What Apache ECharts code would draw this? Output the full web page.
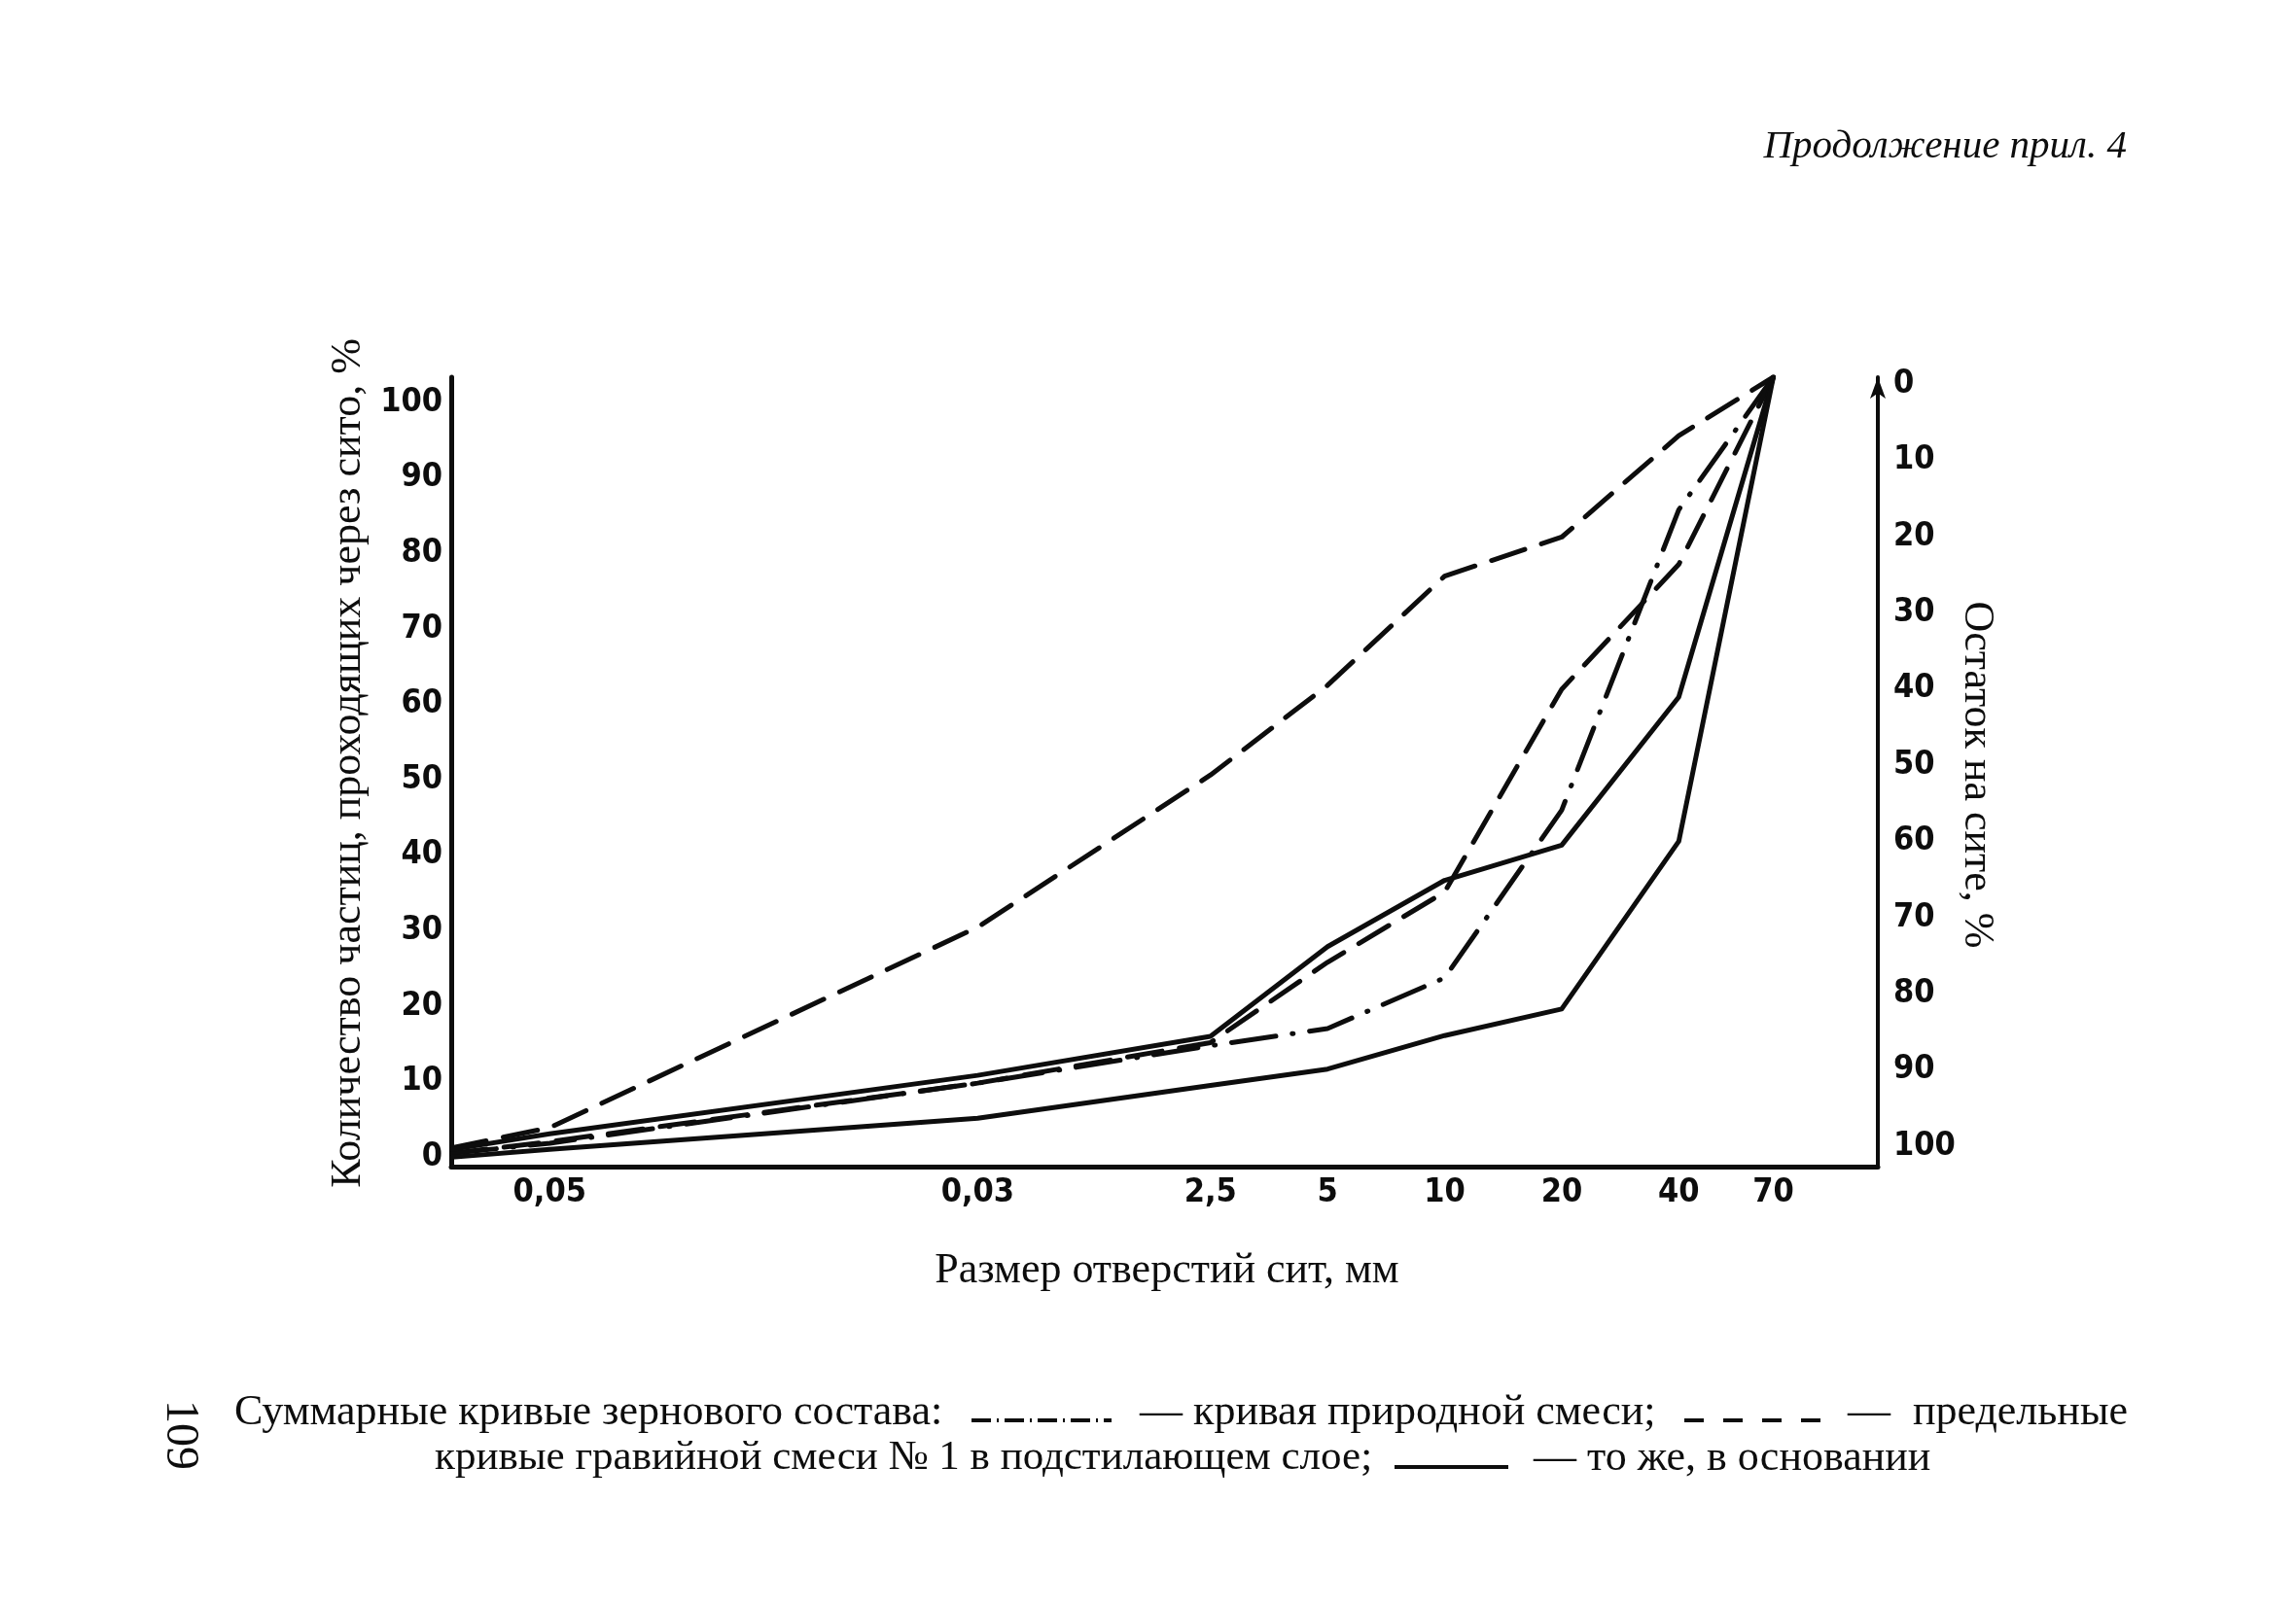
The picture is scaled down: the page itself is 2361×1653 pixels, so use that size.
<!DOCTYPE html>
<html>
<head>
<meta charset="utf-8">
<script src="https://cdn.jsdelivr.net/npm/echarts@6/dist/echarts.min.js"></script>
<style>
html,body{margin:0;padding:0;background:#fff;}
#c{width:2361px;height:1653px;}
</style>
</head>
<body>
<div id="c"></div>
<script>
// ---- data ----
const sieveSizes  = [0.05, 0.63, 2.5, 5, 10, 20, 40, 70];          // mm, labelled sieves
const sieveLabels = ['0,05', '0,03', '2,5', '5', '10', '20', '40', '70'];
const pointSizes  = [0.028, 0.05, 0.63, 2.5, 5, 10, 20, 40, 70];   // first point = curve start at the axis
const naturalMix  = [0.5, 1.8, 9.5, 14.3, 16.5, 23, 44.5, 83, 100];   // dash-dot
const underUpper  = [1.2, 3.8, 29.5, 49, 60.5, 74.5, 79.5, 92.5, 100]; // dashed, upper limit
const underLower  = [0.5, 2, 9.5, 14.7, 25, 34, 60, 76, 100];          // dashed, lower limit
const baseUpper   = [1, 3, 10.5, 15.5, 27, 35.5, 40, 59, 100];         // solid, upper limit
const baseLower   = [0, 1, 5, 9.2, 11.3, 15.6, 19, 40.5, 100];         // solid, lower limit

const black = '#0d0d0d';
const serif = "'Liberation Serif','DejaVu Serif','Times New Roman',serif";
const narrow = "'Liberation Sans Narrow','DejaVu Sans Condensed','Roboto Condensed',sans-serif";

function pairs(vals) { return pointSizes.map((s, i) => [s, vals[i]]); }
function labelFor(v) {
  let best = 0, bd = Infinity;
  sieveSizes.forEach((s, i) => {
    const d = Math.abs(Math.log(v) - Math.log(s));
    if (d < bd) { bd = d; best = i; }
  });
  return sieveLabels[best];
}

function lineSeries(name, vals, type) {
  return {
    name: name, type: 'line', xAxisIndex: 0, yAxisIndex: 0,
    data: pairs(vals), symbol: 'none', silent: true,
    lineStyle: { color: black, width: 5, type: type, cap: 'round', join: 'round' }
  };
}

function txt(x, y, text, align, size, extra) {
  return Object.assign({ type: 'text', x: x, y: y, silent: true,
    style: { text: text, fontFamily: serif, fontSize: size, fill: black,
             align: align, verticalAlign: 'middle' } }, extra || {});
}

const chart = echarts.init(document.getElementById('c'), null, { renderer: 'canvas' });
const option = {
  backgroundColor: '#ffffff',
  animation: false,
  textStyle: { fontFamily: serif, color: black },
  grid: [
    { left: 464, right: 430, top: 388, height: 812, outerBoundsMode: 'none' },
    { left: 464, right: 430, top: 414, height: 776, outerBoundsMode: 'none' },
    { left: 464, right: 430, top: 395, height: 784, outerBoundsMode: 'none' }
  ],
  xAxis: [
    {
      type: 'log', logBase: 10, gridIndex: 0, min: 0.0279, max: 130,
      axisLine: { show: true, onZero: false, lineStyle: { color: black, width: 5 } },
      axisTick: { show: false }, splitLine: { show: false },
      minorTick: { show: false }, minorSplitLine: { show: false },
      axisLabel: {
        show: true, customValues: sieveSizes, margin: 10, color: black,
        fontFamily: narrow, fontWeight: 'bold', fontSize: 34,
        formatter: function (v) { return labelFor(v); }
      }
    },
    { type: 'value', gridIndex: 1, show: false, min: 0, max: 1 },
    { type: 'value', gridIndex: 2, show: false, min: 0, max: 1 }
  ],
  yAxis: [
    {
      type: 'value', gridIndex: 0, min: -1.2, max: 100, position: 'left',
      axisLine: { show: true, onZero: false, lineStyle: { color: black, width: 5 } },
      axisTick: { show: false }, axisLabel: { show: false }, splitLine: { show: false }
    },
    {
      type: 'value', gridIndex: 0, min: -1.2, max: 100, position: 'right',
      axisLine: { show: true, onZero: false, symbol: ['none', 'arrow'], symbolSize: [12, 22],
                  lineStyle: { color: black, width: 4 } },
      axisTick: { show: false }, axisLabel: { show: false }, splitLine: { show: false }
    },
    {
      type: 'value', gridIndex: 1, min: 0, max: 100, interval: 10, position: 'left',
      axisLine: { show: false }, axisTick: { show: false }, splitLine: { show: false },
      axisLabel: { margin: 9, color: black, fontFamily: narrow, fontWeight: 'bold', fontSize: 34 }
    },
    {
      type: 'value', gridIndex: 2, min: 0, max: 100, interval: 10, position: 'right', inverse: true,
      axisLine: { show: false }, axisTick: { show: false }, splitLine: { show: false },
      axisLabel: { margin: 16, color: black, fontFamily: narrow, fontWeight: 'bold', fontSize: 34 }
    }
  ],
  series: [
    lineSeries('кривая природной смеси', naturalMix, [46, 17, 1, 17]),
    lineSeries('предельная (подстилающий слой), верхняя', underUpper, [36, 18]),
    lineSeries('предельная (подстилающий слой), нижняя', underLower, [36, 18]),
    lineSeries('то же, в основании, верхняя', baseUpper, 'solid'),
    lineSeries('то же, в основании, нижняя', baseLower, 'solid')
  ],
  graphic: [
    { type: 'text', x: 2187, y: 151, silent: true,
      style: { text: 'Продолжение прил. 4', fontFamily: serif, fontStyle: 'italic', fontSize: 41,
               fill: black, align: 'right', verticalAlign: 'middle' } },
    txt(358, 785, 'Количество частиц, проходящих через сито, %', 'center', 44, { rotation: Math.PI / 2 }),
    txt(2033, 797, 'Остаток на сите, %', 'center', 44, { rotation: -Math.PI / 2 }),
    txt(1200, 1307, 'Размер отверстий сит, мм', 'center', 44),
    // caption line 1
    txt(241, 1453, 'Суммарные кривые зернового состава:', 'left', 44),
    { type: 'line', silent: true, shape: { x1: 999, y1: 1461, x2: 1143, y2: 1461 },
      style: { stroke: black, lineWidth: 4, lineDash: [20, 6, 2, 6] } },
    txt(1172, 1453, '— кривая природной смеси;', 'left', 44),
    { type: 'line', silent: true, shape: { x1: 1732, y1: 1461, x2: 1880, y2: 1461 },
      style: { stroke: black, lineWidth: 4, lineDash: [20, 20] } },
    txt(1900, 1453, '—', 'left', 44),
    txt(2188, 1453, 'предельные', 'right', 44),
    // caption line 2
    txt(447, 1500, 'кривые гравийной смеси № 1 в подстилающем слое;', 'left', 43),
    { type: 'line', silent: true, shape: { x1: 1434, y1: 1509, x2: 1551, y2: 1509 },
      style: { stroke: black, lineWidth: 4 } },
    txt(1577, 1500, '— то же, в основании', 'left', 44),
    // page number
    { type: 'text', x: 185, y: 1476, rotation: -Math.PI / 2, silent: true,
      style: { text: '109', fontFamily: serif, fontSize: 48,
               fill: black, align: 'center', verticalAlign: 'middle' } }
  ]
};
chart.setOption(option);
</script>
</body>
</html>
